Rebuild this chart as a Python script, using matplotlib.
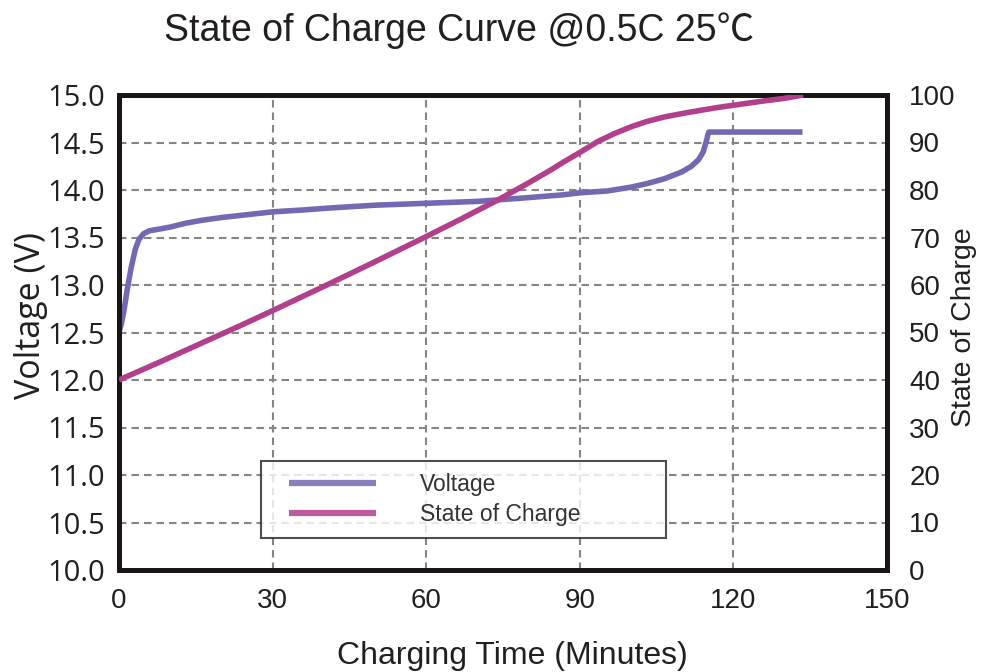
import matplotlib
matplotlib.use("Agg")
import matplotlib.pyplot as plt
from matplotlib.ticker import FormatStrFormatter
from matplotlib.legend_handler import HandlerLine2D

# Charging time (minutes) and pack voltage (V)
volt_time = [0, 0.5, 1, 1.6, 2.4, 3.2, 3.9, 4.8, 5.9, 8, 10, 13, 16, 20, 25, 30,
             36, 41, 50, 60, 70, 75, 80, 86.9, 89.9, 95.4, 100, 103.3, 106.6,
             109.9, 111.8, 113.2, 114.1, 114.8, 115.0, 115.2, 133.5]
voltage = [12.5, 12.6, 12.74, 12.95, 13.19, 13.38, 13.48, 13.54, 13.57, 13.59,
           13.61, 13.65, 13.68, 13.71, 13.74, 13.77, 13.79, 13.81, 13.84, 13.86,
           13.88, 13.9, 13.92, 13.95, 13.97, 13.99, 14.03, 14.07, 14.12, 14.19,
           14.25, 14.32, 14.40, 14.53, 14.58, 14.61, 14.61]

# Charging time (minutes) and state of charge (%)
soc_time = [0, 8, 16, 24, 30, 40, 50, 60, 67, 74, 80, 84.3, 87, 90, 93.5, 96.8,
            100, 103, 106.6, 110, 113.2, 116.5, 119.7, 123, 126.3, 130, 133.6]
soc = [40, 43.8, 47.7, 51.6, 54.6, 59.7, 64.9, 70.2, 74.0, 77.9, 81.5, 84.2,
       86.0, 87.9, 90.2, 91.9, 93.3, 94.4, 95.4, 96.1, 96.7, 97.3, 97.8, 98.3,
       98.8, 99.3, 100]

x_ticks = [0, 30, 60, 90, 120, 150]
v_ticks = [10.0, 10.5, 11.0, 11.5, 12.0, 12.5, 13.0, 13.5, 14.0, 14.5, 15.0]
soc_ticks = [0, 10, 20, 30, 40, 50, 60, 70, 80, 90, 100]

VOLT_COLOR = "#7468b3"
SOC_COLOR = "#b23f8b"
TEXT_COLOR = "#231f20"
GRID_COLOR = "#858585"

fig = plt.figure(figsize=(9.87, 6.72), dpi=100)
ax = fig.add_axes([119 / 987, 1 - 570 / 672, 768 / 987, 475 / 672])
ax2 = ax.twinx()

ax.set_xlim(0, 150)
ax.set_ylim(10, 15)
ax2.set_ylim(0, 100)
ax.set_xticks(x_ticks)
ax.set_yticks(v_ticks)
ax2.set_yticks(soc_ticks)
ax.yaxis.set_major_formatter(FormatStrFormatter("%.1f"))

ax.grid(True, color=GRID_COLOR, linestyle=(0, (3.6, 2.4)), linewidth=1.5)
ax.set_axisbelow(True)

lv, = ax.plot(volt_time, voltage, color=VOLT_COLOR, lw=4, solid_capstyle="butt",
              label="Voltage", zorder=3)
ls, = ax2.plot(soc_time, soc, color=SOC_COLOR, lw=4, solid_capstyle="butt",
               label="State of Charge", zorder=3)

for a in (ax, ax2):
    for sp in a.spines.values():
        sp.set_linewidth(3.5)
        sp.set_color("#1a1414")
    a.tick_params(length=0)

ax.tick_params(axis="y", labelsize=21, labelcolor=TEXT_COLOR, pad=10)
for t in ax.get_yticklabels():
    t.set_fontfamily("Open Sans")
ax.tick_params(axis="x", labelsize=20, labelcolor=TEXT_COLOR, pad=13)
for t in ax.get_xticklabels():
    t.set_fontfamily("Liberation Sans")
ax2.tick_params(axis="y", labelsize=20, labelcolor=TEXT_COLOR, pad=16)
for t in ax2.get_yticklabels():
    t.set_fontfamily("Liberation Sans")

ax.set_ylabel("Voltage (V)", fontsize=24.5, family="Open Sans", color=TEXT_COLOR)
ax.yaxis.set_label_coords(-0.0926, 0.535)
ax2.set_ylabel("State of Charge", fontsize=20.5, family="Liberation Sans",
               color=TEXT_COLOR)
ax2.yaxis.set_label_coords(1.0834, 0.512)
ax.set_xlabel("Charging Time (Minutes)", fontsize=23, family="Liberation Sans",
              color=TEXT_COLOR)
ax.xaxis.set_label_coords(0.512, -0.15)

fig.text(459 / 987, 1 - 31 / 672, "State of Charge Curve @0.5C 25℃",
         fontsize=27, family=["Liberation Sans", "Noto Sans CJK SC", "DejaVu Sans"],
         color=TEXT_COLOR, ha="center", va="center")

# Legend box with the sample lines inset from the frame
LEG_FS = 16.5
fs_px = LEG_FS * 100 / 72
border = 0.54
box_left, line_start, line_end, text_start = 261, 289, 376, 420
xpad = (line_start - box_left - border * fs_px) / fs_px
hlen = (line_end - box_left - border * fs_px) / fs_px
htp = (text_start - line_end) / fs_px

leg = ax.legend(handles=[lv, ls], loc="upper left",
                bbox_to_anchor=((box_left - 119) / 768, (570 - 461) / 475,
                                (666 - box_left) / 768, 0.0),
                mode="expand", borderaxespad=0, frameon=True, fancybox=False,
                prop={"family": "Liberation Sans", "size": LEG_FS},
                handlelength=hlen, handletextpad=htp, borderpad=border,
                labelspacing=0.29,
                handler_map={lv: HandlerLine2D(xpad=xpad),
                             ls: HandlerLine2D(xpad=xpad)})
leg.get_frame().set_edgecolor("#222222")
leg.get_frame().set_linewidth(1.5)
leg.set_zorder(5)
for txt in leg.get_texts():
    txt.set_color("#333333")
for h in leg.legend_handles:
    h.set_linewidth(4.5)
    h.set_alpha(0.85)

fig.savefig("out.png", dpi=100)
